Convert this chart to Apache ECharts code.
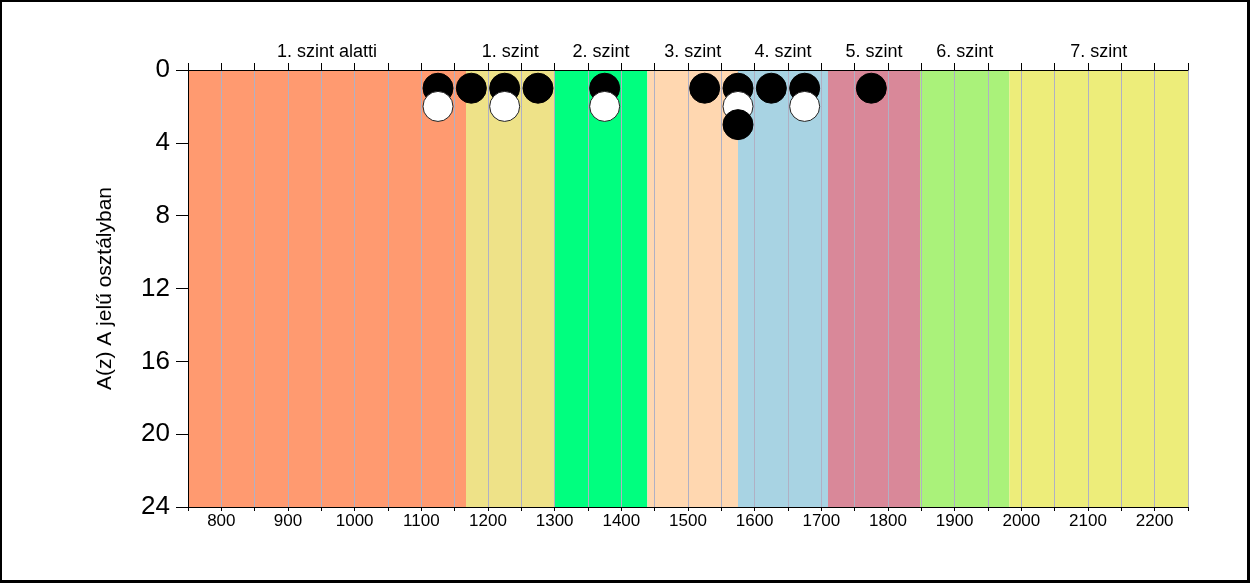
<!DOCTYPE html>
<html>
<head>
<meta charset="utf-8">
<script src="https://cdn.jsdelivr.net/npm/echarts@6/dist/echarts.min.js"></script>
<style>
html,body{margin:0;padding:0;background:#fff;}
#frame{width:1250px;height:583px;box-sizing:border-box;border-style:solid;border-color:#000;border-width:2px 3px 3px 2px;position:relative;}
#chart{position:absolute;left:-2px;top:-2px;width:1250px;height:583px;}
</style>
</head>
<body>
<div id="frame"><div id="chart"></div></div>
<script>
// Level bands (score boundaries), names and colours
const bandEdges = [750, 1167, 1300, 1439, 1575, 1710, 1848, 1982, 2250];
const bandNames = ['1. szint alatti', '1. szint', '2. szint', '3. szint', '4. szint', '5. szint', '6. szint', '7. szint'];
const bandColors = ['#FF9A70', '#EEE288', '#00FF7F', '#FFD7B0', '#A8D3E3', '#D98899', '#AAF27A', '#EDED7A'];
// Dot plot: [score, stack position]
const blackPoints = [[1125,1],[1175,1],[1225,1],[1275,1],[1375,1],[1525,1],[1575,1],[1625,1],[1675,1],[1775,1],[1575,3]];
const whitePoints = [[1125,2],[1225,2],[1375,2],[1575,2],[1675,2]];
const yTicks = [0, 4, 8, 12, 16, 20, 24];

const bandAreas = bandNames.map((n, i) => [
  {name: n, xAxis: bandEdges[i], yAxis: 0, itemStyle: {color: bandColors[i], opacity: 1}},
  {xAxis: bandEdges[i + 1], yAxis: 24}
]);

const allPts = blackPoints.map(p => ({value: p, itemStyle: {color: '#000', borderColor: '#000', borderWidth: 1, opacity: 1}}))
  .concat(whitePoints.map(p => ({value: p, itemStyle: {color: '#fff', borderColor: '#222', borderWidth: 1, opacity: 1}})))
  .sort((a, b) => a.value[1] - b.value[1]);

const chart = echarts.init(document.getElementById('chart'));
chart.setOption({
  animation: false,
  backgroundColor: 'transparent',
  textStyle: {fontFamily: 'Liberation Sans, Arial, sans-serif'},
  grid: {left: 188, top: 70, right: 62, bottom: 76},
  xAxis: [{
    type: 'value', position: 'bottom', min: 750, max: 2250, interval: 50, z: 3,
    axisLine: {show: true, onZero: false, lineStyle: {color: '#000', width: 1}},
    axisTick: {show: true, length: 4, lineStyle: {color: '#000'}},
    axisLabel: {fontSize: 17, color: '#000', margin: 6, formatter: v => (v % 100 === 0 && v > 750 && v < 2250) ? String(v) : ''},
    splitLine: {show: true, lineStyle: {color: '#B0B0C4', width: 1}}
  }, {
    type: 'value', position: 'top', min: 750, max: 2250, interval: 50, z: 3,
    axisLine: {show: true, onZero: false, lineStyle: {color: '#000', width: 1}},
    axisTick: {show: true, length: 7, lineStyle: {color: '#000'}},
    axisLabel: {show: false},
    splitLine: {show: false}
  }],
  yAxis: {
    type: 'value', inverse: true, min: 0, max: 24, interval: 4, z: 3,
    name: 'A(z) A jelű osztályban', nameLocation: 'middle', nameGap: 72,
    nameTextStyle: {fontSize: 21, color: '#000'},
    axisLine: {show: true, onZero: false, lineStyle: {color: '#000'}},
    axisTick: {show: true, length: 12, lineStyle: {color: '#000'}},
    axisLabel: {fontSize: 26, color: '#000', margin: 18, formatter: v => yTicks.includes(v) ? String(v) : ''},
    splitLine: {show: false}
  },
  series: [{
    type: 'scatter', z: 1, data: [], silent: true,
    markArea: {
      silent: true,
      label: {show: true, position: 'top', distance: 9, fontSize: 18, color: '#000'},
      data: bandAreas
    }
  }, {
    type: 'scatter', z: 5, symbol: 'circle', symbolSize: 30, data: allPts,
    itemStyle: {opacity: 1}
  }]
});
</script>
</body>
</html>
